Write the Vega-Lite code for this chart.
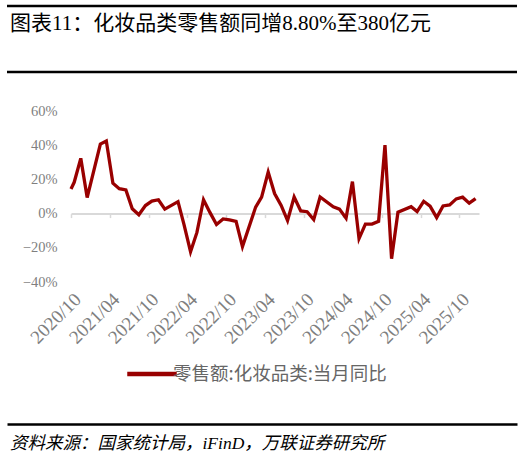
{
  "$schema": "https://vega.github.io/schema/vega-lite/v6.json",
  "padding": {"left": 5, "top": 3, "right": 0, "bottom": 0},
  "spacing": 0,
  "align": "each",
  "center": false,
  "bounds": "flush",
  "config": {"view": {"stroke": null}},
  "resolve": {"scale": {"color": "independent"}, "legend": {"color": "independent"}},
  "vconcat": [
    {
      "width": 510,
      "height": 72,
      "data": {"values": [{"title": "图表11：化妆品类零售额同增8.80%至380亿元"}]},
      "layer": [
        {
          "mark": {"type": "rule", "color": "#000000", "strokeWidth": 2.5},
          "encoding": {"y": {"datum": 1, "type": "quantitative", "scale": {"domain": [0, 1], "range": [69, 3]}, "axis": null}}
        },
        {
          "mark": {"type": "rule", "color": "#000000", "strokeWidth": 2.5},
          "encoding": {"y": {"datum": 0, "type": "quantitative", "scale": {"domain": [0, 1], "range": [69, 3]}, "axis": null}}
        },
        {
          "mark": {"type": "text", "align": "left", "baseline": "middle", "dx": 3, "fontSize": 21, "font": "Liberation Serif, Noto Sans CJK SC", "color": "#000000"},
          "encoding": {
            "x": {"datum": 0, "type": "quantitative", "scale": {"domain": [0, 1]}, "axis": null},
            "y": {"datum": 0.727, "type": "quantitative", "scale": {"domain": [0, 1], "range": [69, 3]}, "axis": null},
            "text": {"field": "title"}
          }
        }
      ]
    },
    {
      "width": 510,
      "height": 349,
      "data": {
        "values": [
          {"date": "2020-09-16", "value": 14.4},
          {"date": "2020-10-16", "value": 18.3},
          {"date": "2020-11-16", "value": 32.3},
          {"date": "2020-12-16", "value": 9.4},
          {"date": "2021-02-16", "value": 40.7},
          {"date": "2021-03-16", "value": 42.5},
          {"date": "2021-04-16", "value": 17.8},
          {"date": "2021-05-16", "value": 14.6},
          {"date": "2021-06-16", "value": 13.8},
          {"date": "2021-07-16", "value": 2.8},
          {"date": "2021-08-16", "value": -0.7},
          {"date": "2021-09-16", "value": 4.7},
          {"date": "2021-10-16", "value": 7.3},
          {"date": "2021-11-16", "value": 8.1},
          {"date": "2021-12-16", "value": 2.6},
          {"date": "2022-02-16", "value": 7.0},
          {"date": "2022-03-16", "value": -6.3},
          {"date": "2022-04-16", "value": -22.3},
          {"date": "2022-05-16", "value": -11.0},
          {"date": "2022-06-16", "value": 8.1},
          {"date": "2022-07-16", "value": 0.7},
          {"date": "2022-08-16", "value": -6.4},
          {"date": "2022-09-16", "value": -3.1},
          {"date": "2022-10-16", "value": -3.7},
          {"date": "2022-11-16", "value": -4.6},
          {"date": "2022-12-16", "value": -19.3},
          {"date": "2023-02-16", "value": 3.8},
          {"date": "2023-03-16", "value": 9.6},
          {"date": "2023-04-16", "value": 24.3},
          {"date": "2023-05-16", "value": 11.7},
          {"date": "2023-06-16", "value": 4.8},
          {"date": "2023-07-16", "value": -4.1},
          {"date": "2023-08-16", "value": 9.7},
          {"date": "2023-09-16", "value": 1.6},
          {"date": "2023-10-16", "value": 1.1},
          {"date": "2023-11-16", "value": -3.5},
          {"date": "2023-12-16", "value": 9.7},
          {"date": "2024-02-16", "value": 4.0},
          {"date": "2024-03-16", "value": 2.6},
          {"date": "2024-04-16", "value": -2.7},
          {"date": "2024-05-16", "value": 18.7},
          {"date": "2024-06-16", "value": -14.6},
          {"date": "2024-07-16", "value": -6.1},
          {"date": "2024-08-16", "value": -6.1},
          {"date": "2024-09-16", "value": -4.5},
          {"date": "2024-10-16", "value": 40.1},
          {"date": "2024-11-16", "value": -26.4},
          {"date": "2024-12-16", "value": 0.8},
          {"date": "2025-02-16", "value": 4.0},
          {"date": "2025-03-16", "value": 1.2},
          {"date": "2025-04-16", "value": 7.2},
          {"date": "2025-05-16", "value": 4.4},
          {"date": "2025-06-16", "value": -2.3},
          {"date": "2025-07-16", "value": 4.5},
          {"date": "2025-08-16", "value": 5.1},
          {"date": "2025-09-16", "value": 8.6},
          {"date": "2025-10-16", "value": 9.6},
          {"date": "2025-11-16", "value": 6.1},
          {"date": "2025-12-16", "value": 8.8}
        ]
      },
      "mark": {"type": "line", "strokeWidth": 3.3, "strokeJoin": "miter"},
      "encoding": {
        "x": {
          "field": "date",
          "type": "temporal",
          "scale": {
            "type": "utc",
            "clamp": true,
            "range": [64, 472],
            "domain": [
              {"year": 2020, "month": 10, "date": 1, "utc": true},
              {"year": 2026, "month": 1, "date": 1, "utc": true}
            ]
          },
          "axis": {
            "title": null,
            "values": [
              {"year": 2020, "month": 10, "date": 1, "utc": true},
              {"year": 2021, "month": 4, "date": 1, "utc": true},
              {"year": 2021, "month": 10, "date": 1, "utc": true},
              {"year": 2022, "month": 4, "date": 1, "utc": true},
              {"year": 2022, "month": 10, "date": 1, "utc": true},
              {"year": 2023, "month": 4, "date": 1, "utc": true},
              {"year": 2023, "month": 10, "date": 1, "utc": true},
              {"year": 2024, "month": 4, "date": 1, "utc": true},
              {"year": 2024, "month": 10, "date": 1, "utc": true},
              {"year": 2025, "month": 4, "date": 1, "utc": true},
              {"year": 2025, "month": 10, "date": 1, "utc": true}
            ],
            "format": "%Y/%m",
            "labelAngle": -45,
            "offset": -210.4,
            "grid": false,
            "domainColor": "#d9d9d9",
            "domainWidth": 2,
            "tickColor": "#d9d9d9",
            "tickSize": 4,
            "tickWidth": 1.5,
            "labelPadding": 72,
            "labelColor": "#7f7f7f",
            "labelFont": "Liberation Serif",
            "labelFontSize": 19,
            "labelFlush": false,
            "labelOverlap": false,
            "labelBound": false
          }
        },
        "y": {
          "field": "value",
          "type": "quantitative",
          "scale": {"domain": [-40, 60], "nice": false, "range": [207, 36]},
          "axis": {
            "title": null,
            "offset": -64,
            "values": [-40, -20, 0, 20, 40, 60],
            "labelExpr": "(datum.value < 0 ? '−' : '') + abs(datum.value) + '%'",
            "domain": false,
            "ticks": false,
            "grid": false,
            "labelPadding": 14,
            "labelColor": "#7f7f7f",
            "labelFont": "Liberation Serif",
            "labelFontSize": 14.5
          }
        },
        "color": {
          "datum": "零售额:化妆品类:当月同比",
          "scale": {"range": ["#990000"]},
          "legend": {
            "title": null,
            "orient": "none",
            "legendX": 116,
            "legendY": 270,
            "padding": 2,
            "symbolType": "stroke",
            "symbolSize": 2450,
            "symbolStrokeWidth": 4.5,
            "labelFont": "Noto Sans CJK SC",
            "labelFontSize": 18.5,
            "labelColor": "#666666",
            "labelOffset": -6,
            "labelLimit": 400
          }
        }
      }
    },
    {
      "width": 510,
      "height": 31,
      "data": {"values": [{"source": "资料来源：国家统计局，iFinD，万联证券研究所"}]},
      "layer": [
        {
          "mark": {"type": "text", "align": "left", "baseline": "middle", "dx": 3, "fontSize": 17.5, "fontStyle": "italic", "font": "Liberation Serif, Noto Sans CJK SC", "color": "#000000"},
          "encoding": {
            "x": {
              "datum": 0,
              "type": "quantitative",
              "scale": {"domain": [0, 1]},
              "axis": {"orient": "top", "domain": true, "domainColor": "#000000", "domainWidth": 2.5, "ticks": false, "labels": false, "grid": false, "title": null}
            },
            "y": {"datum": 0.36, "type": "quantitative", "scale": {"domain": [0, 1]}, "axis": null},
            "text": {"field": "source"}
          }
        }
      ]
    }
  ]
}
